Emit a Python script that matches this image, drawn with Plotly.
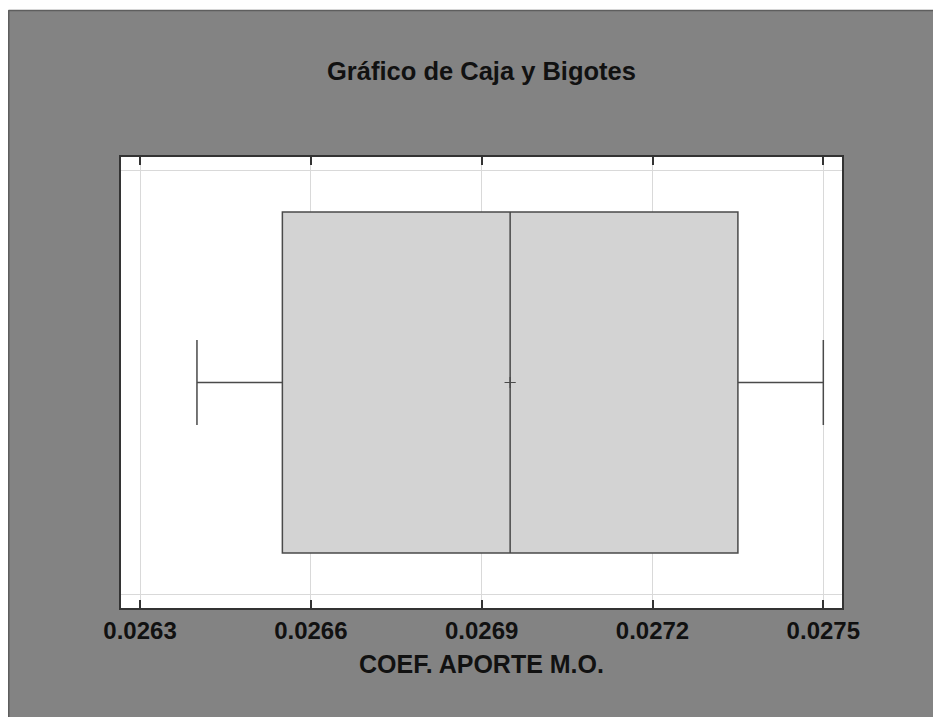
import plotly.graph_objects as go

# Data
variable = "COEF. APORTE M.O."
q1 = [0.02655]
median = [0.02695]
q3 = [0.02735]
lowerfence = [0.02640]
upperfence = [0.02750]
mean = [0.02695]
tick_vals = [0.0263, 0.0266, 0.0269, 0.0272, 0.0275]
tick_text = ["0.0263", "0.0266", "0.0269", "0.0272", "0.0275"]

# the page body adds an 8px offset; the figure overflows to fill the window
W, H = 941, 717
ML, MR, MT, MB = 113, 107, 149, 117
pw, ph = W - ML - MR, H - MT - MB

def px_x(px):
    return (px - ML) / pw

def px_y(py):
    return (H - MB - py) / ph

FONT = "Liberation Sans, Arial, sans-serif"
GRAY_BG = "#838383"
LINE = "#4a4a4a"

fig = go.Figure()
fig.add_trace(go.Box(
    y=[0], q1=q1, median=median, q3=q3,
    lowerfence=lowerfence, upperfence=upperfence,
    orientation="h", name=variable,
    fillcolor="#d3d3d3", line=dict(color=LINE, width=1.5),
    width=0.756, whiskerwidth=0.25, boxpoints=False,
    hoverinfo="x",
))
fig.add_trace(go.Scatter(
    x=mean, y=[0], mode="markers",
    marker=dict(symbol="cross-thin", size=8, line=dict(color=LINE, width=1.2)),
    showlegend=False, hoverinfo="x",
))

shapes = [
    # thin white strip at top of the frame
    dict(type="rect", xref="paper", yref="paper", layer="below",
         x0=px_x(-2), x1=px_x(W + 5), y0=px_y(2), y1=px_y(-5),
         fillcolor="white", line=dict(width=0)),
    dict(type="line", xref="paper", yref="paper", layer="below",
         x0=px_x(0.5), x1=px_x(W + 5), y0=px_y(2.5), y1=px_y(2.5),
         line=dict(color="#5e5e5e", width=1.5)),
    dict(type="line", xref="paper", yref="paper", layer="below",
         x0=px_x(0.75), x1=px_x(0.75), y0=px_y(2.5), y1=px_y(H + 5),
         line=dict(color="#5e5e5e", width=1.5)),
]

fig.update_layout(
    width=W, height=H,
    margin=dict(l=ML, r=MR, t=MT, b=MB),
    paper_bgcolor=GRAY_BG, plot_bgcolor="white",
    showlegend=False,
    shapes=shapes,
    title=dict(text="<b>Gráfico de Caja y Bigotes</b>", x=0.5, xref="paper",
               xanchor="center", y=1 - 63 / H, yanchor="middle",
               font=dict(family=FONT, size=25.5, color="#111")),
    font=dict(family=FONT, color="#111"),
)
fig.update_xaxes(
    range=[0.0262666, 0.0275328],
    tickvals=tick_vals, ticktext=["<b>%s</b>" % t for t in tick_text],
    tickfont=dict(family=FONT, size=24, color="#111"),
    ticks="inside", ticklen=8, tickcolor="#333", tickwidth=1.5,
    showgrid=True, gridcolor="#d9d9d9", gridwidth=1,
    showline=True, linecolor="#333", linewidth=1.5, mirror="ticks",
    zeroline=False,
    title=dict(text="<b>COEF. APORTE M.O.</b>", standoff=13,
               font=dict(family=FONT, size=25, color="#111")),
)
fig.update_yaxes(
    range=[-0.5, 0.5],
    tickvals=[-0.471, 0.471], showticklabels=False, ticks="",
    showgrid=True, gridcolor="#d9d9d9", gridwidth=1,
    showline=True, linecolor="#333", linewidth=1.5, mirror=True,
    zeroline=False,
)
fig.write_html("out.html")
